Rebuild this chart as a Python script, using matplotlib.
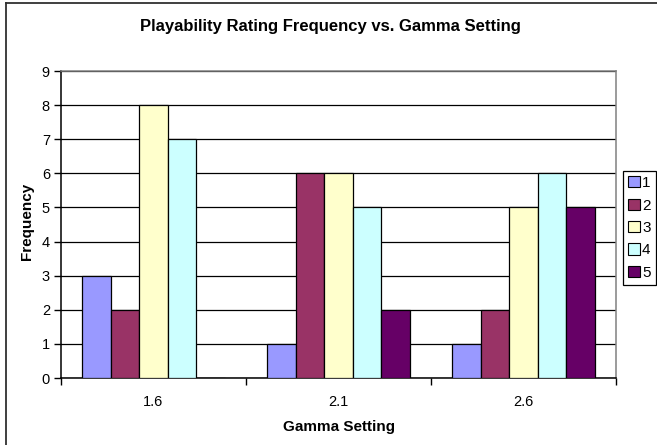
import numpy as np
import matplotlib.pyplot as plt
from matplotlib.patches import Patch
from matplotlib.lines import Line2D

plt.rcParams['font.family'] = ['Liberation Sans', 'DejaVu Sans']

gamma = ["1.6", "2.1", "2.6"]
ratings = ["1", "2", "3", "4", "5"]
rating1 = [3, 1, 1]
rating2 = [2, 6, 2]
rating3 = [8, 6, 5]
rating4 = [7, 5, 6]
rating5 = [0, 2, 5]
colors = ["#9999FF", "#993366", "#FFFFCC", "#CCFFFF", "#660066"]

W, H = 657, 445
fig = plt.figure(figsize=(W / 100, H / 100), dpi=100)

# chart area border (cut off at right and bottom like the screenshot)
fig.add_artist(Line2D([5.5 / W, 5.5 / W], [0, 1 - 3 / H], color="#303030", lw=1.3))
fig.add_artist(Line2D([5.5 / W, 1], [1 - 3 / H, 1 - 3 / H], color="#303030", lw=1.3))

ax = fig.add_axes([61 / W, 1 - 378 / H, 555 / W, 307 / H])

series = [rating1, rating2, rating3, rating4, rating5]
x = np.arange(1, len(gamma) + 1)
w = 1 / 6.5
for i, vals in enumerate(series):
  ax.bar(x + (i - 2) * w, vals, w, color=colors[i], edgecolor="black", lw=0.9, zorder=3)

ax.set_xlim(0.5, 3.5)
ax.set_ylim(0, 9)
ax.set_yticks(range(10))
ax.yaxis.grid(True, color="black", lw=0.9, zorder=0)

ax.set_xticks([0.5, 1.5, 2.5, 3.5])
ax.set_xticklabels([])
ax.set_xticks(x, minor=True)
ax.set_xticklabels(gamma, minor=True)
ax.tick_params(axis="x", which="minor", length=0, pad=12, labelsize=10.5)
ax.tick_params(axis="x", which="major", direction="out", length=5, width=1)
ax.tick_params(axis="y", direction="out", length=5, width=1, pad=3, labelsize=10.5)

ax.spines["left"].set_color("black")
ax.spines["bottom"].set_color("black")
ax.spines["top"].set_color("#808080")
ax.spines["right"].set_color("#808080")
for s in ax.spines.values():
  s.set_linewidth(1.1)

fig.text(330 / W, 1 - 27 / H, "Playability Rating Frequency vs. Gamma Setting",
         ha="center", va="center", fontsize=12, fontweight="bold")
fig.text(339 / W, 1 - 427 / H, "Gamma Setting", ha="center", va="center",
         fontsize=11, fontweight="bold")
fig.text(27 / W, 1 - 221 / H, "Frequency", ha="center", va="center",
         rotation=90, fontsize=11, fontweight="bold")

handles = [Patch(facecolor=c, edgecolor="black", lw=0.8) for c in colors]
leg = fig.legend(handles, ratings, loc="center left",
                 bbox_to_anchor=(623 / W, 1 - 228 / H), fontsize=11,
                 handlelength=0.75, handleheight=0.75, handletextpad=0.15,
                 labelspacing=0.55, borderpad=0.35, borderaxespad=0,
                 fancybox=False, framealpha=1, edgecolor="black")
leg.get_frame().set_linewidth(0.9)

fig.savefig("out.png", dpi=100)
